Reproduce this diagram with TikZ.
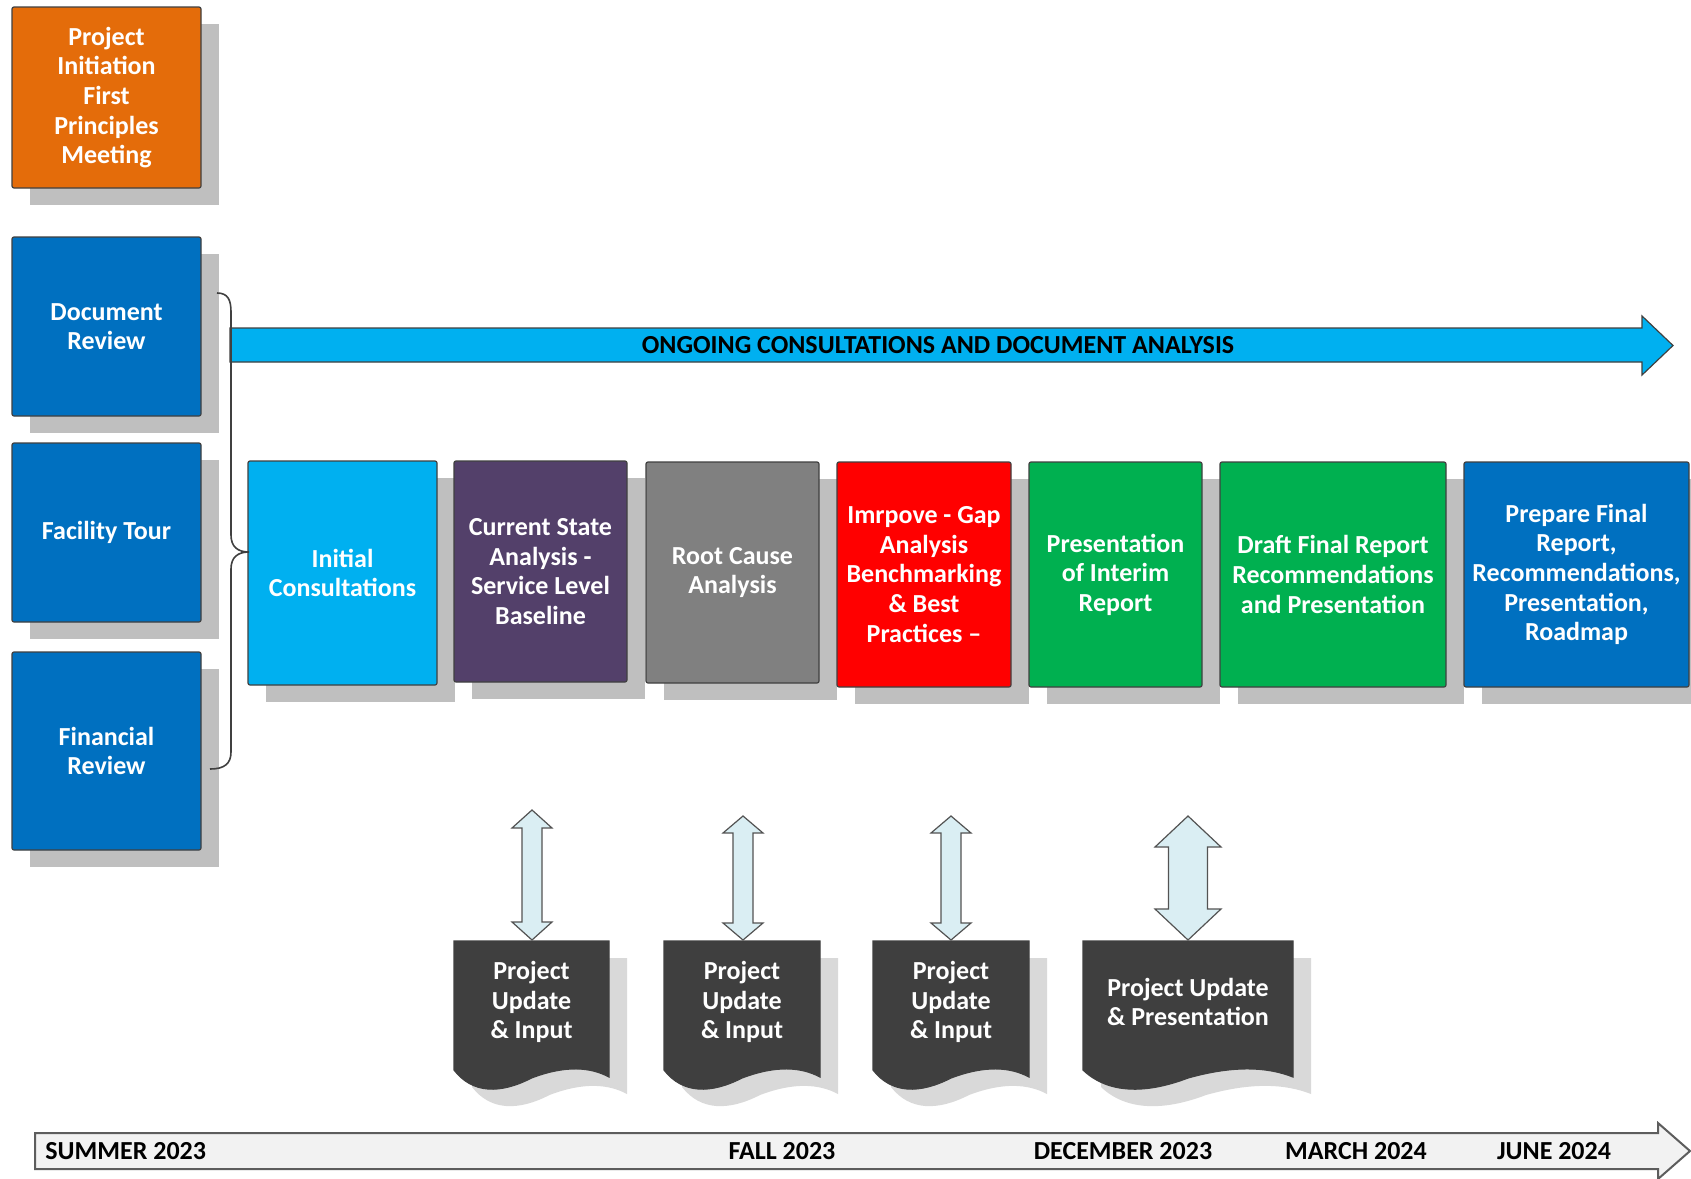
\documentclass[tikz,border=0pt]{standalone}
\usepackage{fontspec}
\setmainfont{Carlito}
\usetikzlibrary{calc}
\definecolor{orangeC}{HTML}{E46C0A}
\definecolor{blueC}{HTML}{0070C0}
\definecolor{cyanC}{HTML}{00B0F0}
\definecolor{purpleC}{HTML}{53406A}
\definecolor{greyC}{HTML}{808080}
\definecolor{redC}{HTML}{FF0000}
\definecolor{greenC}{HTML}{00B050}
\definecolor{docC}{HTML}{3F3F3F}
\definecolor{shadowC}{HTML}{BFBFBF}
\definecolor{docshadowC}{HTML}{D9D9D9}
\definecolor{arrowC}{HTML}{DAEEF3}
\definecolor{lineC}{HTML}{404040}
\definecolor{tlC}{HTML}{F2F2F2}
\tikzset{
  boxst/.style={draw=lineC, line width=0.6pt, rounded corners=1pt, inner sep=0pt, outer sep=0pt,
    text=white, align=center, font=\fontsize{13}{14.8}\selectfont\bfseries},
  doctext/.style={text=white, align=center, inner sep=0pt, font=\fontsize{13}{14.8}\selectfont\bfseries},
  docst/.style={fill=docC, draw=lineC, line width=0.6pt},
  blockarrow/.style={fill=arrowC, draw=lineC!90, line width=0.6pt, line join=miter},
  bigarrow/.style={fill=cyanC, draw=lineC, line width=0.6pt},
  tlarrow/.style={fill=tlC, draw=lineC!85, line width=1pt},
  tllabel/.style={text=black, inner sep=0pt, font=\fontsize{13}{14.8}\selectfont\bfseries},
  bracest/.style={draw=lineC, line width=0.8pt}
}
\newcommand{\pbox}[7]{%
  \fill[shadowC] ({#2+18},{#3+17}) rectangle ({#4+18},{#5+17});
  \pgfmathsetmacro{\myW}{(#4-#2)*0.5}%
  \pgfmathsetmacro{\myH}{(#5-#3)*0.5}%
  \node[boxst, fill=#6, minimum width=\myW pt, minimum height=\myH pt] (#1) at ({(#2+#4)/2},{(#3+#5)/2}) {#7};
}
\newcommand{\docpath}[3]{({#1},{#2}) -- ({#1+#3},{#2}) -- ({#1+#3},{#2+136})
  .. controls ({#1+0.88*#3},{#2+126}) and ({#1+0.72*#3},{#2+124}) .. ({#1+0.5*#3},{#2+137})
  .. controls ({#1+0.3*#3},{#2+153}) and ({#1+0.12*#3},{#2+153}) .. ({#1},{#2+129}) -- cycle}
\newcommand{\docbox}[5]{%
  \fill[docshadowC] \docpath{#2+18}{#3+17}{#4};
  \path[docst] \docpath{#2}{#3}{#4};
  \node[doctext] (#1) at ({#2+#4/2},{#3+61}) {#5};
  \coordinate (#1top) at ({#2+#4/2},{#3});
}
% centre x, top y, bottom y, shaft half width, head half width, head length
\newcommand{\dblarrow}[6]{%
  \path[blockarrow] ({#1},{#2}) -- ({#1+#5},{#2+#6}) -- ({#1+#4},{#2+#6}) -- ({#1+#4},{#3-#6})
    -- ({#1+#5},{#3-#6}) -- ({#1},{#3}) -- ({#1-#5},{#3-#6}) -- ({#1-#4},{#3-#6})
    -- ({#1-#4},{#2+#6}) -- ({#1-#5},{#2+#6}) -- cycle;
}
\begin{document}
\begin{tikzpicture}[x=0.5pt,y=-0.5pt]
\fill[white] (0,0) rectangle (1691,1178);
\useasboundingbox (0,0) rectangle (1691,1178);

% left column
\pbox{init}{12}{7}{201}{188}{orangeC}{Project\\Initiation\\First\\Principles\\Meeting}
\pbox{docrev}{12}{237}{201}{416}{blueC}{Document\\Review}
\pbox{tour}{12}{443}{201}{622}{blueC}{Facility Tour}
\pbox{fin}{12}{652}{201}{850}{blueC}{Financial\\Review}

% ongoing arrow
\path[bigarrow] (230,328) -- (1642,328) -- (1642,316) -- (1673,345.5) -- (1642,375) -- (1642,362) -- (230,362) -- cycle;
\node[tllabel] (ongoing) at (938,345) {ONGOING CONSULTATIONS AND DOCUMENT ANALYSIS};

% middle row
\pbox{ic}{248}{461}{437}{685}{cyanC}{Initial\\Consultations}
\pbox{cs}{454}{461}{627}{682}{purpleC}{Current State\\Analysis -\\Service Level\\Baseline}
\pbox{rc}{646}{462}{819}{683}{greyC}{Root Cause\\Analysis}
\pbox{gap}{837}{462}{1011}{687}{redC}{Imrpove - Gap\\Analysis\\Benchmarking\\\& Best\\Practices –}
\pbox{interim}{1029}{462}{1202}{687}{greenC}{Presentation\\of Interim\\Report}
\pbox{draft}{1220}{462}{1446}{687}{greenC}{Draft Final Report\\Recommendations\\and Presentation}
\pbox{final}{1464}{462}{1689}{687}{blueC}{Prepare Final\\Report,\\Recommendations,\\Presentation,\\Roadmap}

% brace
\coordinate (bracetip) at (249,552);
\draw[bracest] (217,293) .. controls (228,293) and (231,300) .. (231,312) -- (231,535)
  .. controls (231,547) and (238,552) .. (bracetip)
  .. controls (238,552) and (231,557) .. (231,569) -- (231,752)
  .. controls (231,764) and (224,769) .. (210,769);

% documents
\docbox{d1}{454}{941}{155}{Project\\Update\\\& Input}
\docbox{d2}{664}{941}{156}{Project\\Update\\\& Input}
\docbox{d3}{873}{941}{156}{Project\\Update\\\& Input}
\docbox{d4}{1083}{941}{210}{Project Update\\\& Presentation}

% double arrows
\dblarrow{532}{810}{940}{10}{20}{18}
\dblarrow{743}{816}{940}{10}{20}{17}
\dblarrow{951}{816}{940}{10}{20}{17}
\dblarrow{1188}{816}{940}{19.5}{33}{31}

% timeline
\path[tlarrow] (35,1133) -- (1658,1133) -- (1658,1123) -- (1690,1151) -- (1658,1179) -- (1658,1169) -- (35,1169) -- cycle;
\node[tllabel, anchor=west] (summer) at (45,1151) {SUMMER 2023};
\node[tllabel] (fall) at (782,1151) {FALL 2023};
\node[tllabel] (dec) at (1123,1151) {DECEMBER 2023};
\node[tllabel] (march) at (1356,1151) {MARCH 2024};
\node[tllabel] (june) at (1554,1151) {JUNE 2024};
\end{tikzpicture}
\end{document}
